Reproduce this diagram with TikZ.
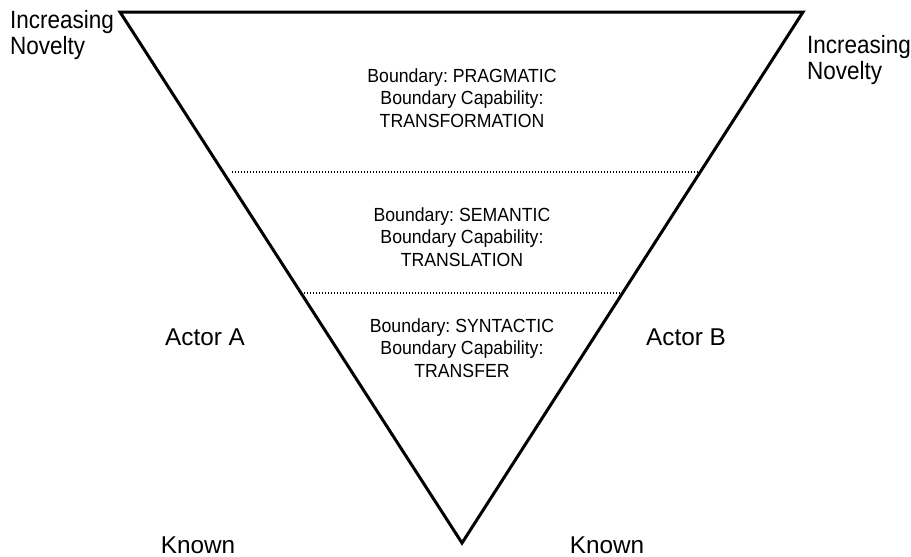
\documentclass[tikz,border=0pt]{standalone}
\usepackage{fontspec}
\setmainfont{Liberation Sans}
\newfontfamily\condA[FakeStretch=0.93]{Liberation Sans}
\newfontfamily\condB[FakeStretch=0.9]{Liberation Sans}
\begin{document}
\begin{tikzpicture}[x=1pt,y=-1pt,
  inner/.style={align=center,font=\condA\fontsize{19}{22.5}\selectfont,inner sep=0pt},
  outer/.style={font=\fontsize{24.3}{26.5}\selectfont,inner sep=0pt},
  novel/.style={font=\condB\fontsize{25}{26.5}\selectfont,inner sep=0pt,align=left},
  edge/.style={line width=3pt,line join=miter},
  sep/.style={line width=1.4pt,dash pattern=on 1.4pt off 1.6pt}]
\useasboundingbox (0,0) rectangle (911,557);
\coordinate (tl) at (120,12);
\coordinate (tr) at (803,12);
\coordinate (bt) at (462,543);
\draw[edge] (tl) -- (tr) -- (bt) -- cycle;
\coordinate (d1a) at (232,172);
\coordinate (d1b) at (698,172);
\coordinate (d2a) at (304,293);
\coordinate (d2b) at (623,293);
\draw[sep] (d1a) -- (d1b);
\draw[sep] (d2a) -- (d2b);
\node[inner] (prag) at (462,98) {Boundary:\ PRAGMATIC\\Boundary Capability:\\TRANSFORMATION};
\node[inner] (sem) at (462,237) {Boundary:\ SEMANTIC\\Boundary Capability:\\TRANSLATION};
\node[inner] (syn) at (462,348) {Boundary:\ SYNTACTIC\\Boundary Capability:\\TRANSFER};
\node[novel,anchor=west] (novL) at (10,35) {Increasing\\Novelty};
\node[novel,anchor=west] (novR) at (807,60) {Increasing\\Novelty};
\node[outer] (actA) at (205,337) {Actor A};
\node[outer] (actB) at (686,337) {Actor B};
\node[outer] (knL) at (198,545) {Known};
\node[outer] (knR) at (607,545) {Known};
\end{tikzpicture}
\end{document}
